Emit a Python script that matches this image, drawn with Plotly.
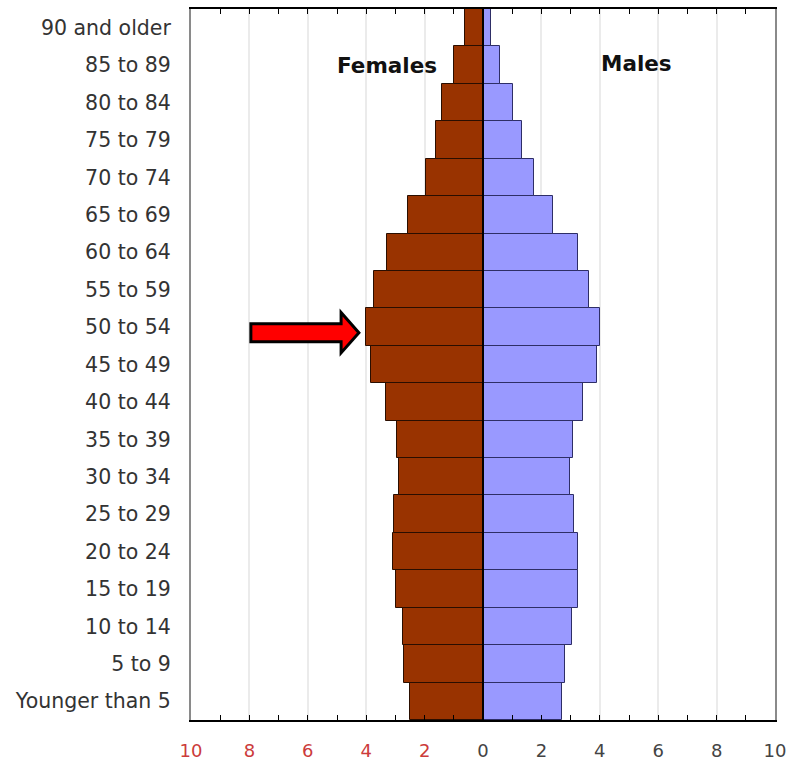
import plotly.graph_objects as go

age_groups = ["Younger than 5", "5 to 9", "10 to 14", "15 to 19", "20 to 24", "25 to 29",
              "30 to 34", "35 to 39", "40 to 44", "45 to 49", "50 to 54", "55 to 59",
              "60 to 64", "65 to 69", "70 to 74", "75 to 79", "80 to 84", "85 to 89",
              "90 and older"]
females = [2.5, 2.7, 2.75, 2.98, 3.08, 3.05, 2.88, 2.95, 3.32, 3.85, 4.0, 3.73,
           3.3, 2.57, 1.95, 1.6, 1.4, 1.0, 0.6]
males = [2.7, 2.8, 3.05, 3.25, 3.25, 3.12, 2.98, 3.08, 3.42, 3.9, 4.0, 3.63,
         3.25, 2.4, 1.73, 1.34, 1.03, 0.58, 0.27]
tick_vals = [-10, -8, -6, -4, -2, 0, 2, 4, 6, 8, 10]
tick_text = [str(abs(v)) for v in tick_vals]
neg_color = "#cc3b3b"
pos_color = "#444444"
tick_text_html = [f"<span style='color:{neg_color}'>{t}</span>" if v < 0 else t
                  for v, t in zip(tick_vals, tick_text)]

fig = go.Figure()
fig.add_trace(go.Bar(y=age_groups, x=[-v for v in females], orientation="h",
                     name="Females", marker=dict(color="#993300",
                     line=dict(color="#2a0e00", width=1))))
fig.add_trace(go.Bar(y=age_groups, x=males, orientation="h", name="Males",
                     marker=dict(color="#9999ff", line=dict(color="#2e2e66", width=1))))

# zero line above bars
fig.add_shape(type="line", xref="x", yref="paper", x0=0, x1=0, y0=0, y1=1,
              line=dict(color="black", width=2), layer="above")

# red block arrow pointing at the 50 to 54 female bar
iy = age_groups.index("50 to 54") - 0.15
x_tail, x_neck, x_tip = -7.95, -4.86, -4.25
sh, hh = 0.24, 0.54
path = (f"M {x_tail},{iy+sh} L {x_neck},{iy+sh} L {x_neck},{iy+hh} L {x_tip},{iy} "
        f"L {x_neck},{iy-hh} L {x_neck},{iy-sh} L {x_tail},{iy-sh} Z")
fig.add_shape(type="path", xref="x", yref="y", path=path,
              fillcolor="#ff0000", line=dict(color="black", width=3), layer="above")

fig.add_annotation(x=-3.3, y="85 to 89", text="<b>Females</b>", showarrow=False,
                   font=dict(family="DejaVu Sans", size=21.5, color="#111111"))
fig.add_annotation(x=5.25, y="85 to 89", text="<b>Males</b>", showarrow=False,
                   yshift=2, font=dict(family="DejaVu Sans", size=21.5, color="#111111"))

fig.update_layout(
    width=789, height=763,
    margin=dict(l=191, r=14, t=9, b=43, autoexpand=False),
    barmode="relative", bargap=0,
    showlegend=False,
    plot_bgcolor="white", paper_bgcolor="white",
    font=dict(family="DejaVu Sans", color="#333333"),
)
fig.update_xaxes(
    range=[-10, 10], tickvals=tick_vals, ticktext=tick_text_html,
    tickfont=dict(size=18, color=pos_color),
    showgrid=True, gridcolor="#ebebeb", gridwidth=2,
    zeroline=False, automargin=False,
    showline=True, linecolor="black", linewidth=2, mirror="ticks",
    ticks="inside", ticklen=5, tickcolor="black", tickwidth=1,
    minor=dict(dtick=1, ticks="inside", ticklen=5, tickcolor="black", showgrid=False),
    ticklabelstandoff=13,
)
fig.update_yaxes(
    categoryorder="array", categoryarray=age_groups,
    range=[-0.5, 18.5], automargin=False,
    tickfont=dict(size=20.5, color="#333333"),
    showline=True, linecolor="#8a8a8a", linewidth=2, mirror=True,
    showgrid=False, ticks="", ticklabelstandoff=14,
)

fig.write_html(
    "out.html",
    config={"displayModeBar": False},
    post_script="document.body.style.margin='0';document.body.style.overflow='hidden';",
)
